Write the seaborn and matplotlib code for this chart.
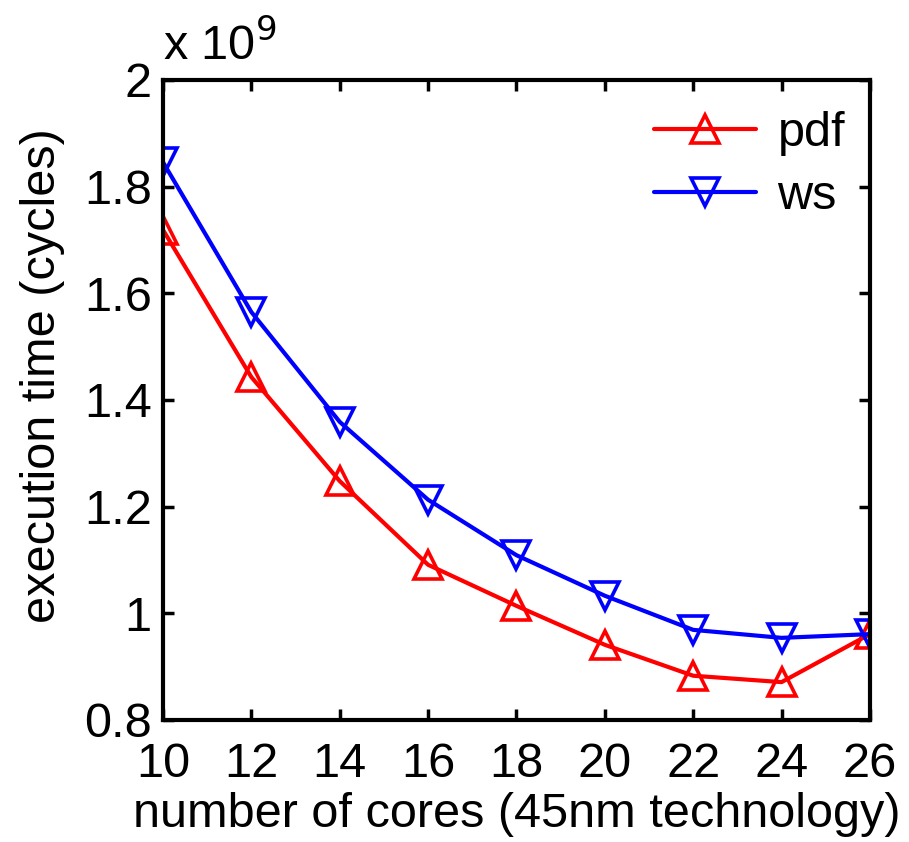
import matplotlib
matplotlib.use("Agg")
import matplotlib.pyplot as plt
import seaborn as sns
import pandas as pd
from matplotlib.lines import Line2D

cores = [10, 12, 14, 16, 18, 20, 22, 24, 26]
pdf_vals = [1.719, 1.443, 1.248, 1.091, 1.014, 0.941, 0.883, 0.871, 0.961]
ws_vals = [1.846, 1.565, 1.359, 1.213, 1.109, 1.033, 0.969, 0.954, 0.961]
x_ticks = [10, 12, 14, 16, 18, 20, 22, 24, 26]
y_ticks = [0.8, 1.0, 1.2, 1.4, 1.6, 1.8, 2.0]
y_tick_labels = ["0.8", "1", "1.2", "1.4", "1.6", "1.8", "2"]

sns.set_theme(style="white")
plt.rcParams['font.family'] = ['Liberation Sans', 'DejaVu Sans']
plt.rcParams['text.color'] = 'black'
plt.rcParams['axes.labelcolor'] = 'black'

df = pd.DataFrame({
    "cores": cores * 2,
    "time": pdf_vals + ws_vals,
    "series": ["pdf"] * len(cores) + ["ws"] * len(cores),
})

FS = 35
LW = 3.0
MS = 20
MEW = 2.6

fig = plt.figure(figsize=(9.09, 8.42), dpi=100)
ax = fig.add_axes([0.1793, 0.1449, 0.7777, 0.7601])

sns.lineplot(data=df, x="cores", y="time", hue="series", style="series",
             palette={"pdf": "#ff0000", "ws": "#0000ff"},
             markers={"pdf": "^", "ws": "v"}, dashes=False,
             ax=ax, legend=False)

for line, c in zip(ax.get_lines(), ["#ff0000", "#0000ff"]):
    line.set_markeredgecolor(c)
    line.set_markerfacecolor("none")
    line.set_markersize(MS)
    line.set_markeredgewidth(MEW)
    line.set_linewidth(LW)

ax.set_xlim(10, 26)
ax.set_ylim(0.8, 2.0)
ax.set_xticks(x_ticks)
ax.set_yticks(y_ticks)
ax.set_yticklabels(y_tick_labels)
ax.tick_params(direction="in", length=8, width=2.5, labelsize=FS,
               top=True, right=True, bottom=True, left=True, pad=8,
               colors="black", labelcolor="black")
ax.tick_params(axis="x", pad=16)
for s in ax.spines.values():
    s.set_visible(True)
    s.set_linewidth(3)
    s.set_color("black")

ax.set_xlabel("number of cores (45nm technology)", fontsize=FS, color="black")
ax.xaxis.set_label_coords(0.5, -0.112)
ax.set_ylabel("execution time (cycles)", fontsize=FS, color="black")
ax.yaxis.set_label_coords(-0.139, 0.5375)
ax.text(0.0, 1.015, r"x 10$^{9}$", transform=ax.transAxes, fontsize=FS,
        ha="left", va="bottom", color="black")

handles = [
    Line2D([], [], color="#ff0000", marker="^", markersize=MS, markerfacecolor="none",
           markeredgewidth=MEW, linewidth=LW),
    Line2D([], [], color="#0000ff", marker="v", markersize=MS, markerfacecolor="none",
           markeredgewidth=MEW, linewidth=LW),
]
leg = ax.legend(handles, ["pdf", "ws"], loc="upper right", bbox_to_anchor=(1.0, 0.99),
                frameon=False, fontsize=FS,
                handlelength=2.1, borderaxespad=0.31, handletextpad=0.45,
                labelspacing=0.37, borderpad=0.2)
for t in leg.get_texts():
    t.set_color("black")

fig.savefig("out.png", dpi=100)
